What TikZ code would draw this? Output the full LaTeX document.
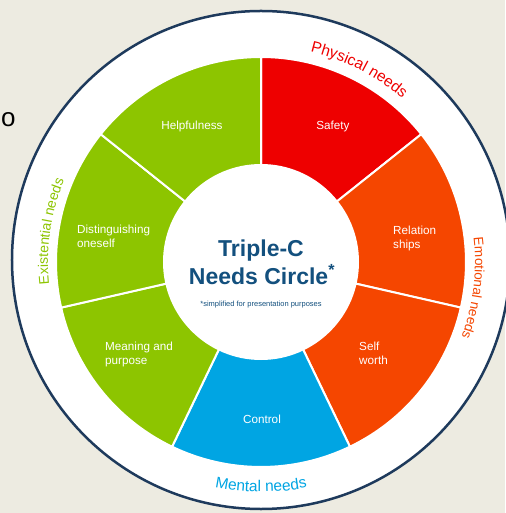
\documentclass[tikz,border=0pt]{standalone}
\usepackage{fontspec}
\setmainfont{Liberation Sans}
\usetikzlibrary{decorations.text}
\definecolor{bgcol}{HTML}{EDEBE1}
\definecolor{ringline}{HTML}{1E3A5C}
\definecolor{physred}{HTML}{EE0000}
\definecolor{emoorange}{HTML}{F54600}
\definecolor{exigreen}{HTML}{8DC500}
\definecolor{mentblue}{HTML}{00A5E3}
\definecolor{titleblue}{HTML}{13507E}

\begin{document}
\begin{tikzpicture}[x=1pt,y=1pt,
  sector/.style={draw=white,line width=2pt,line join=round},
  seg label/.style={text=white,font=\fontsize{11.7}{14}\selectfont,inner sep=0pt},
  title text/.style={text=titleblue,font=\fontsize{23}{28}\selectfont\bfseries,inner sep=0pt},
  ring text/.style={decorate,decoration={text along path,text align=center,text color=#1}}]
\useasboundingbox (-261,-251) rectangle (244,262);
\fill[bgcol] (-261,-251) rectangle (244,262);
\node[anchor=base west,inner sep=0pt,font=\fontsize{26}{30}\selectfont] (cutoff) at (-260,135) {o};
\draw[ringline,line width=2.5pt,fill=white] (0,2) circle[radius=249];
% the seven needs
\path[sector,fill=physred] (0,0) -- (90:205) arc[start angle=90,end angle=38.57,radius=205] -- cycle;
\path[sector,fill=emoorange] (0,0) -- (38.57:205) arc[start angle=38.57,end angle=-12.86,radius=205] -- cycle;
\path[sector,fill=emoorange] (0,0) -- (-12.86:205) arc[start angle=-12.86,end angle=-64.29,radius=205] -- cycle;
\path[sector,fill=mentblue] (0,0) -- (-64.29:205) arc[start angle=-64.29,end angle=-115.71,radius=205] -- cycle;
\path[sector,fill=exigreen] (0,0) -- (-115.71:205) arc[start angle=-115.71,end angle=-167.14,radius=205] -- cycle;
\path[sector,fill=exigreen] (0,0) -- (192.86:205) arc[start angle=192.86,end angle=141.43,radius=205] -- cycle;
\path[sector,fill=exigreen] (0,0) -- (141.43:205) arc[start angle=141.43,end angle=90,radius=205] -- cycle;
\fill[white] (0,0) circle[radius=98];
\node[seg label,anchor=base] (help) at (-69,132) {Helpfulness};
\node[seg label,anchor=base] (safe) at (72,132) {Safety};
\node[seg label,align=left,anchor=west] (rel) at (132,24) {Relation\\ships};
\node[seg label,align=left,anchor=west] (self) at (98,-91) {Self\\worth};
\node[seg label,anchor=base] (ctrl) at (1,-161) {Control};
\node[seg label,align=left,anchor=west] (mean) at (-156,-92) {Meaning and\\purpose};
\node[seg label,align=left,anchor=west] (dist) at (-184,26) {Distinguishing\\oneself};
% centre
\node[title text,anchor=base] (trip) at (0,5) {Triple-C};
\node[title text,anchor=base] (circ) at (1,-23) {Needs Circle\textsuperscript{*}};
\node[anchor=base,text=titleblue,font=\fontsize{7.5}{9}\selectfont,inner sep=0pt] (note) at (0,-45) {*simplified for presentation purposes};
% outer labels
\path[ring text=physred,decoration={text={|\fontsize{15.5}{18}\selectfont|Physical needs}}]
  (103:216) arc[start angle=103,end angle=23,radius=216];
\path[ring text=emoorange,decoration={text={|\fontsize{13.5}{16}\selectfont|Emotional needs}}]
  (33:214) arc[start angle=33,end angle=-47,radius=214];
\path[ring text=mentblue,decoration={text={|\fontsize{15.5}{18}\selectfont|Mental needs}}]
  (-130:230) arc[start angle=-130,end angle=-50,radius=230];
\path[ring text=exigreen,decoration={text={|\fontsize{14}{17}\selectfont|Existential needs}}]
  (211.7:213) arc[start angle=211.7,end angle=131.7,radius=213];
\end{tikzpicture}
\end{document}
